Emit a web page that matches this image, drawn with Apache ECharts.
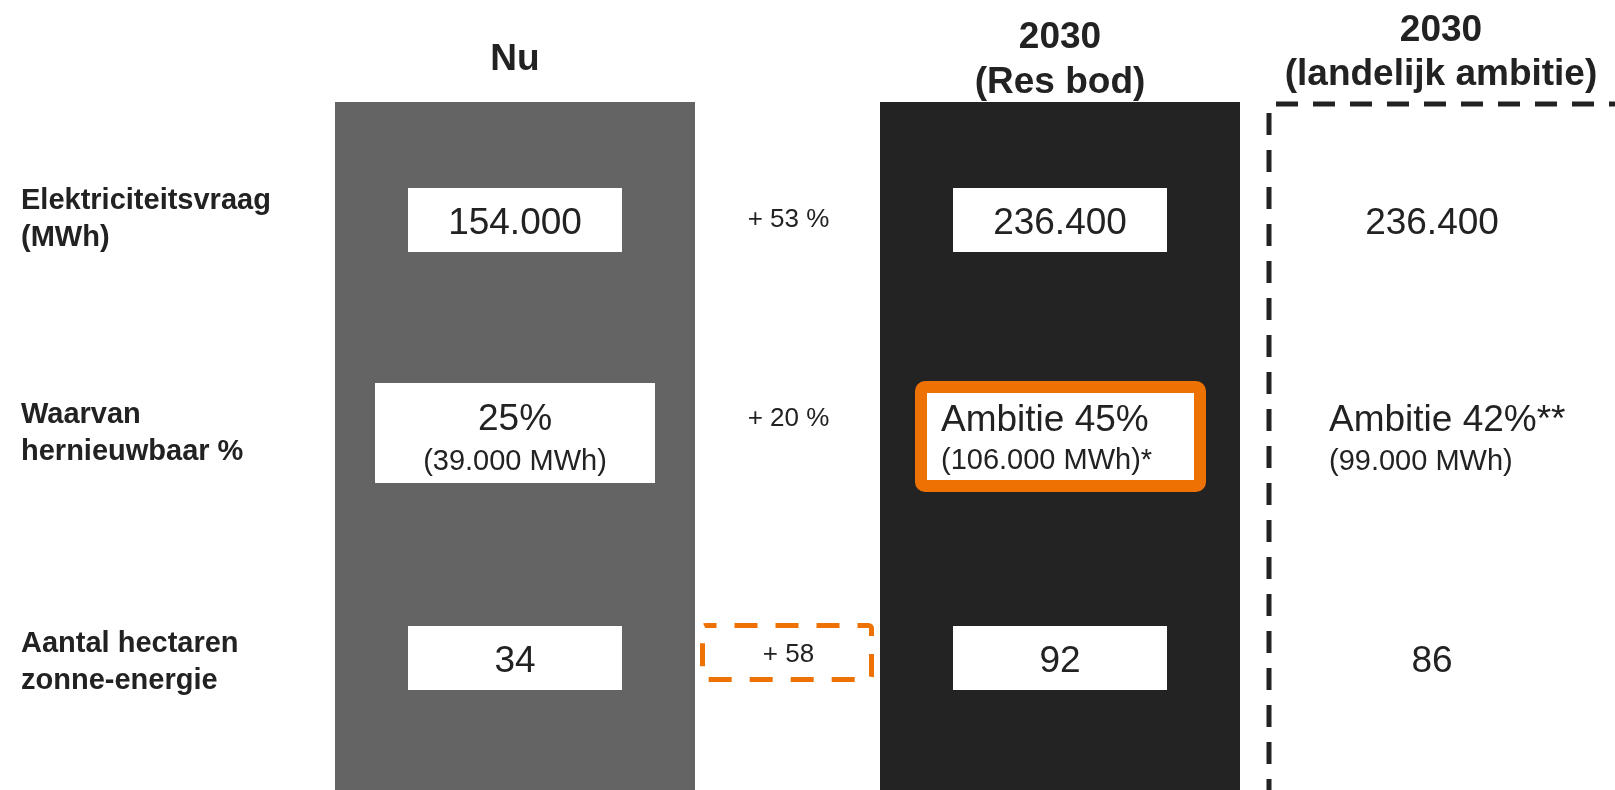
<!DOCTYPE html>
<html>
<head>
<meta charset="utf-8">
<title>Elektriciteit: nu en 2030</title>
<script src="https://cdn.jsdelivr.net/npm/echarts@6/dist/echarts.min.js"></script>
<style>
  html, body { margin: 0; padding: 0; background: #ffffff; }
  #chart { width: 1615px; height: 790px; }
</style>
</head>
<body>
<div id="chart"></div>
<script>
// Row labels and column headers
const rowLabels = ['Elektriciteitsvraag\n(MWh)', 'Waarvan\nhernieuwbaar %', 'Aantal hectaren\nzonne-energie'];
const columnHeaders = ['Nu', '', '2030\n(Res bod)'];
const ambitionHeader = ['2030\n(landelijk ambitie)'];

// Current situation
const nuMain = ['154.000', '25%', '34'];
const nuSub = ['', '(39.000 MWh)', ''];

// Change from now to the RES bid
const changeText = ['+ 53 %', '+ 20 %', '+ 58'];
const changeHighlight = [false, false, true];

// RES bid 2030
const resMain = ['236.400', 'Ambitie 45%', '92'];
const resSub = ['', '(106.000 MWh)*', ''];
const resHighlight = [false, true, false];

// National ambition 2030
const landMain = ['236.400', 'Ambitie 42%**', '86'];
const landSub = ['', '(99.000 MWh)', ''];

// ---- styling ----
const FONT = "'Liberation Sans', Arial, Helvetica, sans-serif";
const INK = '#222222';
const ORANGE = '#EE7203';
const PANEL_FILL = { 0: '#646464', 2: '#232323' };
const PANEL_W = 360;
const VALUE_SIZE = 37;
const SUB_SIZE = 29;
const CHANGE_SIZE = 26;
const TEXT_DY = 3;                 // optical centring of the cell texts
const LABEL_NUDGE = [0, -5, 5];    // vertical nudge of the row labels

function textEl(x, y, text, size, align, weight) {
  return {
    type: 'text',
    z2: 10,
    style: {
      text: text,
      x: x,
      y: y + TEXT_DY,
      fill: INK,
      font: (weight || 'normal') + ' ' + size + 'px ' + FONT,
      textAlign: align || 'center',
      textVerticalAlign: 'middle'
    }
  };
}

// row label: each line in style "t"; a thin spacer line above or below shifts the block
function rowLabelFormatter(value, index) {
  const body = value.split('\n').map(l => '{t|' + l + '}').join('\n');
  const n = LABEL_NUDGE[index] || 0;
  if (n < 0) return body + '\n{s| }';
  if (n > 0) return '{s| }\n' + body;
  return body;
}

const rowIdx = rowLabels.map((_, i) => i);

const chart = echarts.init(document.getElementById('chart'), null, { renderer: 'canvas' });

const option = {
  animation: false,
  backgroundColor: '#ffffff',
  grid: [
    { left: 378.75, width: 817.5, top: 109.5, height: 657, outerBoundsMode: 'none', containLabel: false },
    { left: 1269, width: 344, top: 109.5, height: 657, outerBoundsMode: 'none', containLabel: false }
  ],
  xAxis: [
    {
      type: 'category', gridIndex: 0, position: 'top', data: columnHeaders,
      axisLine: { show: false }, axisTick: { show: false }, splitLine: { show: false },
      axisLabel: {
        interval: 0, margin: 49.5, verticalAlign: 'middle',
        fontFamily: FONT, fontWeight: 'bold', fontSize: 37, lineHeight: 45, color: INK
      }
    },
    {
      type: 'category', gridIndex: 1, position: 'top', data: ambitionHeader,
      axisLine: { show: false }, axisTick: { show: false }, splitLine: { show: false },
      axisLabel: {
        interval: 0, margin: 56.5, verticalAlign: 'middle',
        fontFamily: FONT, fontWeight: 'bold', fontSize: 37, lineHeight: 44, color: INK
      }
    }
  ],
  yAxis: [
    {
      type: 'category', gridIndex: 0, inverse: true, data: rowLabels,
      axisLine: { show: false }, axisTick: { show: false }, splitLine: { show: false },
      axisLabel: {
        interval: 0, margin: 357.75, align: 'left', verticalAlign: 'middle',
        formatter: rowLabelFormatter,
        rich: {
          t: { fontFamily: FONT, fontWeight: 'bold', fontSize: 29, lineHeight: 37, color: INK },
          s: { fontSize: 1, lineHeight: 10, height: 10 }
        }
      }
    },
    {
      type: 'category', gridIndex: 1, inverse: true, data: rowLabels,
      axisLine: { show: false }, axisTick: { show: false }, splitLine: { show: false },
      axisLabel: { show: false }
    }
  ],
  series: [
    // column panels behind the values
    {
      type: 'custom', name: 'panels', xAxisIndex: 0, yAxisIndex: 0, silent: true, z: 1,
      encode: { x: 0, y: 1 },
      data: [[0, 0], [2, 0]],
      renderItem: function (params, api) {
        const col = api.value(0);
        const x = api.coord([col, 0])[0];
        const cs = params.coordSys;
        return {
          type: 'rect',
          shape: { x: x - PANEL_W / 2, y: cs.y - 7.5, width: PANEL_W, height: cs.height + 200 },
          style: { fill: PANEL_FILL[col] }
        };
      }
    },
    // value cells for "Nu" and "2030 (Res bod)"
    {
      type: 'custom', name: 'cells', xAxisIndex: 0, yAxisIndex: 0, silent: true, z: 2,
      encode: { x: 0, y: 1 },
      data: rowIdx.map(r => [0, r]).concat(rowIdx.map(r => [2, r])),
      renderItem: function (params, api) {
        const col = api.value(0), row = api.value(1);
        const p = api.coord([col, row]);
        const cx = p[0], cy = p[1];
        const main = col === 0 ? nuMain[row] : resMain[row];
        const sub = col === 0 ? nuSub[row] : resSub[row];
        const children = [];
        if (col === 2 && resHighlight[row]) {
          children.push({
            type: 'rect',
            shape: { x: cx - 139, y: cy - 51, width: 279, height: 99, r: 4 },
            style: { fill: '#ffffff', stroke: ORANGE, lineWidth: 12 }
          });
          children.push(textEl(cx - 119, cy - 20, main, VALUE_SIZE, 'left'));
          children.push(textEl(cx - 119, cy + 20, sub, SUB_SIZE, 'left'));
        } else if (sub) {
          children.push({
            type: 'rect',
            shape: { x: cx - 140, y: cy - 55, width: 280, height: 100 },
            style: { fill: '#ffffff' }
          });
          children.push(textEl(cx, cy - 21, main, VALUE_SIZE));
          children.push(textEl(cx, cy + 21, sub, SUB_SIZE));
        } else {
          children.push({
            type: 'rect',
            shape: { x: cx - 107, y: cy - 31, width: 214, height: 64 },
            style: { fill: '#ffffff' }
          });
          children.push(textEl(cx, cy + 2, main, VALUE_SIZE));
        }
        return { type: 'group', children: children };
      }
    },
    // change between now and 2030
    {
      type: 'custom', name: 'change', xAxisIndex: 0, yAxisIndex: 0, silent: true, z: 2,
      encode: { x: 0, y: 1 },
      data: rowIdx.map(r => [1, r]),
      renderItem: function (params, api) {
        const row = api.value(1);
        const p = api.coord([1, row]);
        const cx = p[0], cy = p[1];
        const children = [];
        let dy = nuSub[row] ? -22 : -2;
        if (changeHighlight[row]) {
          dy = -5;
          children.push({
            type: 'rect',
            shape: { x: cx - 85, y: cy - 31.5, width: 169, height: 54, r: 3 },
            style: { fill: 'none', stroke: ORANGE, lineWidth: 5, lineDash: [23, 18], lineDashOffset: 12 }
          });
        }
        children.push(textEl(cx + 1, cy + dy, changeText[row], CHANGE_SIZE));
        return { type: 'group', children: children };
      }
    },
    // dashed frame of the national ambition column
    {
      type: 'custom', name: 'frame', xAxisIndex: 1, yAxisIndex: 1, silent: true, z: 1,
      encode: { x: 0, y: 1 },
      data: [[0, 0]],
      renderItem: function (params, api) {
        const cs = params.coordSys;
        const top = api.coord([0, 0])[1] - 115;
        const st = { stroke: INK, lineWidth: 5, lineDash: [22, 15], fill: 'none' };
        return {
          type: 'group',
          children: [
            { type: 'line', shape: { x1: cs.x + 7, y1: top, x2: cs.x + cs.width + 60, y2: top }, style: st },
            { type: 'line', shape: { x1: cs.x, y1: top + 9, x2: cs.x, y2: cs.y + cs.height + 100 }, style: st }
          ]
        };
      }
    },
    // national ambition values
    {
      type: 'custom', name: 'landelijk', xAxisIndex: 1, yAxisIndex: 1, silent: true, z: 2,
      encode: { x: 0, y: 1 },
      data: rowIdx.map(r => [0, r]),
      renderItem: function (params, api) {
        const row = api.value(1);
        const p = api.coord([0, row]);
        const cx = p[0], cy = p[1];
        if (landSub[row]) {
          return {
            type: 'group',
            children: [
              textEl(cx - 112, cy - 20, landMain[row], VALUE_SIZE, 'left'),
              textEl(cx - 112, cy + 21, landSub[row], SUB_SIZE, 'left')
            ]
          };
        }
        return textEl(cx - 9, cy + 2, landMain[row], VALUE_SIZE);
      }
    }
  ]
};

chart.setOption(option);
</script>
</body>
</html>
